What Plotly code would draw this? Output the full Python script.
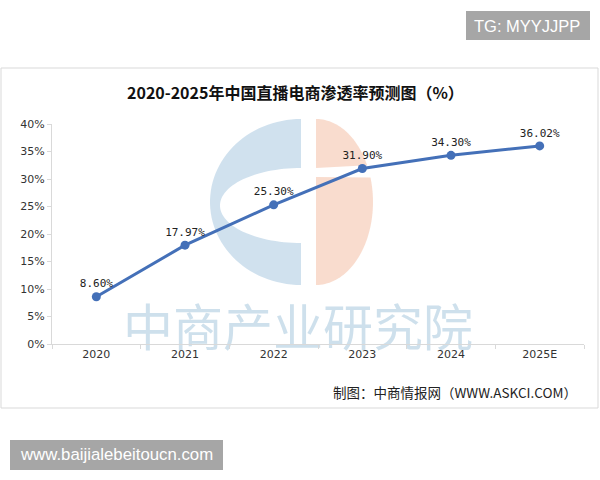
import numpy as np
import plotly.graph_objects as go

# ---------------- data ----------------
years = ["2020", "2021", "2022", "2023", "2024", "2025E"]
rates = [8.60, 17.97, 25.30, 31.90, 34.30, 36.02]
labels = ["8.60%", "17.97%", "25.30%", "31.90%", "34.30%", "36.02%"]
y_ticks = [0, 5, 10, 15, 20, 25, 30, 35, 40]
y_tick_text = [f"{v}%" for v in y_ticks]
title_text = "<b>2020-2025年中国直播电商渗透率预测图（%）</b>"
source_text = "制图：中商情报网（WWW.ASKCI.COM）"
watermark_text = "中商产业研究院"
badge_top = "TG: MYYJJPP"
badge_bottom = "www.baijialebeitoucn.com"

# ---------------- layout geometry (pixels) ----------------
W, H = 600, 480
PL, PR = 52, 584      # plot area x
PT, PB = 124, 344     # plot area y


def px(x):
    return (x - PL) / (PR - PL)


def py(y):
    return (PB - y) / (PB - PT)


def poly_path(pts):
    s = "M " + " L ".join(f"{px(x):.5f},{py(y):.5f}" for x, y in pts) + " Z"
    return s


shapes = []
# outer frame
shapes.append(dict(type="rect", xref="paper", yref="paper",
                   x0=px(1), x1=px(598), y0=py(68), y1=py(408),
                   line=dict(color="#d9d9d9", width=1), layer="below"))

# watermark logo - left "C"
cx, cy = 301, 202
t = np.linspace(np.pi / 2, 3 * np.pi / 2, 60)
outer = [(cx + 91 * np.cos(a), cy - 83 * np.sin(a)) for a in t]
inner = [(cx + 81 * np.cos(a), 205.5 - 37.5 * np.sin(a)) for a in t[::-1]]
left_pts = outer + inner
shapes.append(dict(type="path", xref="paper", yref="paper", path=poly_path(left_pts),
                   fillcolor="rgba(196,218,234,0.8)", line=dict(width=0), layer="below"))

# watermark logo - right half (split by gap)
rx0 = 316
tt = np.linspace(-np.pi / 2, np.pi / 2, 80)
half = [(rx0 + 57 * np.cos(a), cy - 83 * np.sin(a)) for a in tt]
upper = [(x, y) for x, y in half if y <= 168]
lower = [(x, y) for x, y in half if y >= 177]
upper_pts = [(rx0, 168)] + sorted(upper, key=lambda p: -p[1]) + [(rx0, 119)]
lower_pts = [(rx0, 285)] + sorted(lower, key=lambda p: -p[1]) + [(rx0, 177)]
for pts in (upper_pts, lower_pts):
    shapes.append(dict(type="path", xref="paper", yref="paper", path=poly_path(pts),
                       fillcolor="rgba(248,214,198,0.85)", line=dict(width=0), layer="below"))

# badges
shapes.append(dict(type="rect", xref="paper", yref="paper",
                   x0=px(466), x1=px(590), y0=py(11), y1=py(40),
                   fillcolor="#a6a6a6", line=dict(width=0)))
shapes.append(dict(type="rect", xref="paper", yref="paper",
                   x0=px(10), x1=px(223), y0=py(440), y1=py(470),
                   fillcolor="#a6a6a6", line=dict(width=0)))

fig = go.Figure()

# watermark text (on hidden overlay axes so it sits under the tick labels)
fig.add_trace(go.Scatter(
    x=[0.5], y=[0.5], mode="text", text=[watermark_text],
    textfont=dict(family="Noto Sans CJK SC", size=50, color="rgba(190,213,230,0.75)"),
    xaxis="x2", yaxis="y2", cliponaxis=False, hoverinfo="skip", showlegend=False))

fig.add_trace(go.Scatter(
    x=years, y=rates, mode="lines+markers+text",
    text=labels, textposition="top center",
    textfont=dict(family="DejaVu Sans Mono, monospace", size=11, color="#222222"),
    line=dict(color="#4470b8", width=3),
    marker=dict(color="#4470b8", size=9),
    cliponaxis=False, showlegend=False))

ann = [
    dict(text=title_text, xref="paper", yref="paper", x=px(295), y=py(92),
         showarrow=False, xanchor="center", yanchor="middle",
         font=dict(family="Noto Sans CJK SC", size=16, color="#111111")),
    dict(text=source_text, xref="paper", yref="paper", x=px(579), y=py(392),
         showarrow=False, xanchor="right", yanchor="middle",
         font=dict(family="Noto Sans CJK SC", size=13.5, color="#222222")),
    dict(text=badge_top, xref="paper", yref="paper", x=px(527), y=py(25.5),
         showarrow=False, xanchor="center", yanchor="middle",
         font=dict(family="Liberation Sans, Arial", size=16.5, color="#ffffff")),
    dict(text=badge_bottom, xref="paper", yref="paper", x=px(116.5), y=py(455),
         showarrow=False, xanchor="center", yanchor="middle",
         font=dict(family="Liberation Sans, Arial", size=16.8, color="#ffffff")),
]

fig.update_layout(
    width=W, height=H,
    margin=dict(l=PL, r=W - PR, t=PT, b=H - PB),
    paper_bgcolor="white", plot_bgcolor="rgba(0,0,0,0)",
    shapes=shapes, annotations=ann,
    xaxis=dict(type="category", range=[-0.5, 5.5], showgrid=False, zeroline=False,
               showline=True, linecolor="#d9d9d9", linewidth=1,
               ticks="outside", tickson="boundaries", ticklen=4, tickcolor="#d9d9d9",
               tickfont=dict(family="DejaVu Sans, Arial", size=11, color="#333333")),
    yaxis=dict(range=[0, 40], tickvals=y_ticks, ticktext=y_tick_text,
               showgrid=False, zeroline=False, showline=True, linecolor="#d9d9d9",
               ticks="outside", ticklen=4, tickcolor="#d9d9d9",
               tickfont=dict(family="DejaVu Sans, Arial", size=11, color="#333333")),
    xaxis2=dict(overlaying="x", range=[0, 1], visible=False, domain=[0, 1]),
    yaxis2=dict(overlaying="y", range=[0, 1], visible=False),
)
# place watermark center at pixel (298, 333)
fig.data[0].x = [px(298)]
fig.data[0].y = [py(333)]

fig.write_html("out.html")
